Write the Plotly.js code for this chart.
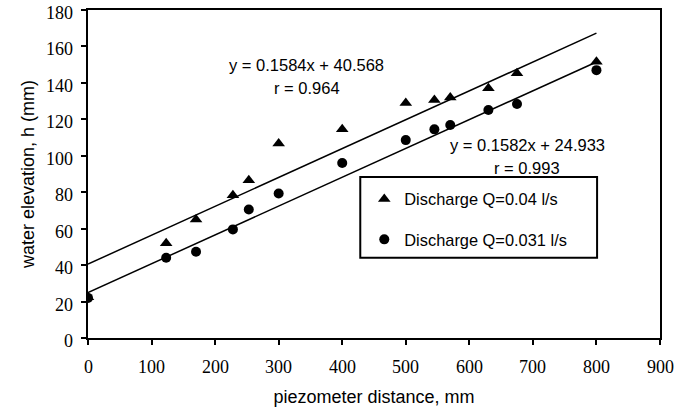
<!DOCTYPE html>
<html>
<head>
<meta charset="utf-8">
<script src="https://cdn.plot.ly/plotly-3.0.1.min.js"></script>
<style>html,body{margin:0;padding:0;background:#fff;}#chart{width:675px;height:411px;}</style>
</head>
<body>
<div id="chart"></div>
<script>
// Data
var distance = [0, 123, 170, 228, 253, 300, 400, 500, 545, 570, 630, 675, 800];
var elevQ004 = [22.4, 52, 65, 78.4, 86.6, 106.8, 114.6, 129, 130.6, 132, 137, 145.3, 151.6];
var elevQ0031 = [22, 44, 47.3, 59.6, 70.5, 79.3, 96, 108.6, 114.5, 116.9, 125.1, 128.4, 147];
var seriesNames = ["Discharge Q=0.04 l/s", "Discharge Q=0.031 l/s"];
var slopes = [0.1584, 0.1582];
var intercepts = [40.568, 24.933];
var rValues = [0.964, 0.993];
var fitRange = [0, 800];
var xTicks = [0, 100, 200, 300, 400, 500, 600, 700, 800, 900];
var yTicks = [0, 20, 40, 60, 80, 100, 120, 140, 160, 180];

function fitLine(i) {
  return {
    x: fitRange.slice(),
    y: fitRange.map(function (x) { return slopes[i] * x + intercepts[i]; }),
    mode: 'lines', type: 'scatter', showlegend: false, hoverinfo: 'skip',
    line: {color: '#000', width: 1.5}
  };
}

var traces = [
  fitLine(0), fitLine(1),
  {x: distance, y: elevQ004, name: seriesNames[0], mode: 'markers', type: 'scatter',
   legendgroup: 'a', marker: {symbol: 'triangle-up', size: 11, color: '#000'}},
  {x: distance, y: elevQ0031, name: seriesNames[1], mode: 'markers', type: 'scatter',
   legendgroup: 'b', marker: {symbol: 'circle', size: 10, color: '#000'}}
];

var serif = "Liberation Serif, Times New Roman, Times, serif";
var sans = "Liberation Sans, Arial, sans-serif";
var tickFont = {family: serif, size: 18, color: '#000'};
var textFont = {family: sans, size: 16.5, color: '#000'};

function serifText(s) {
  return '<span style="font-family:Liberation Serif, Times New Roman, serif">' + s + '</span>';
}

function eqText(i) {
  return 'y = ' + slopes[i].toFixed(4) + 'x + ' + intercepts[i].toFixed(3);
}

var annotations = [
  {x: 0.382, y: 0.832, text: eqText(0)},
  {x: 0.383, y: 0.762, text: 'r = ' + rValues[0]},
  {x: 0.768, y: 0.588, text: eqText(1)},
  {x: 0.768, y: 0.518, text: 'r = ' + rValues[1]}
].map(function (a) {
  return {x: a.x, y: a.y, xref: 'paper', yref: 'paper', text: a.text, showarrow: false,
          xanchor: 'center', yanchor: 'middle', font: textFont};
});

// tick labels (serif), placed through the axes' own scales
xTicks.forEach(function (v) {
  annotations.push({x: v, xref: 'x', y: 0, yref: 'paper', text: serifText(String(v)), showarrow: false,
    xanchor: 'center', yanchor: 'middle', yshift: -29, font: tickFont});
});
yTicks.forEach(function (v) {
  annotations.push({x: 0, xref: 'paper', y: v, yref: 'y', text: serifText(String(v)), showarrow: false,
    xanchor: 'right', yanchor: 'middle', xshift: -13, yshift: -3, font: tickFont});
});

var layout = {
  width: 675, height: 411,
  margin: {l: 88, r: 15, t: 10, b: 73},
  paper_bgcolor: '#fff', plot_bgcolor: '#fff',
  showlegend: true,
  legend: {
    x: 0.483, y: 0.476, xanchor: 'left', yanchor: 'top',
    borderwidth: 0, bgcolor: 'rgba(0,0,0,0)',
    font: {family: sans, size: 16.4, color: '#000'},
    tracegroupgap: 16, traceorder: 'grouped'
  },
  shapes: [
    {type: 'rect', xref: 'paper', yref: 'paper', x0: 0.476, x1: 0.89, y0: 0.245, y1: 0.491,
     line: {color: '#000', width: 2}, fillcolor: '#fff', layer: 'below'}
  ],
  xaxis: {
    range: [0, 900], tickmode: 'array', tickvals: xTicks, showticklabels: false,
    showgrid: false, zeroline: false,
    showline: true, linecolor: '#000', linewidth: 2, mirror: true,
    ticks: 'outside', ticklen: 5, tickwidth: 2, tickcolor: '#000',
    title: {text: 'piezometer distance, mm', font: {family: sans, size: 18, color: '#000'}, standoff: 46}
  },
  yaxis: {
    range: [0, 180], tickmode: 'array', tickvals: yTicks, showticklabels: false,
    showgrid: false, zeroline: false,
    showline: true, linecolor: '#000', linewidth: 2, mirror: true,
    ticks: 'outside', ticklen: 5, tickwidth: 2, tickcolor: '#000',
    title: {text: 'water elevation, h (mm)', font: {family: sans, size: 18, color: '#000'}, standoff: 42}
  },
  annotations: annotations
};

Plotly.newPlot('chart', traces, layout, {displayModeBar: false, staticPlot: true});
</script>
</body>
</html>
